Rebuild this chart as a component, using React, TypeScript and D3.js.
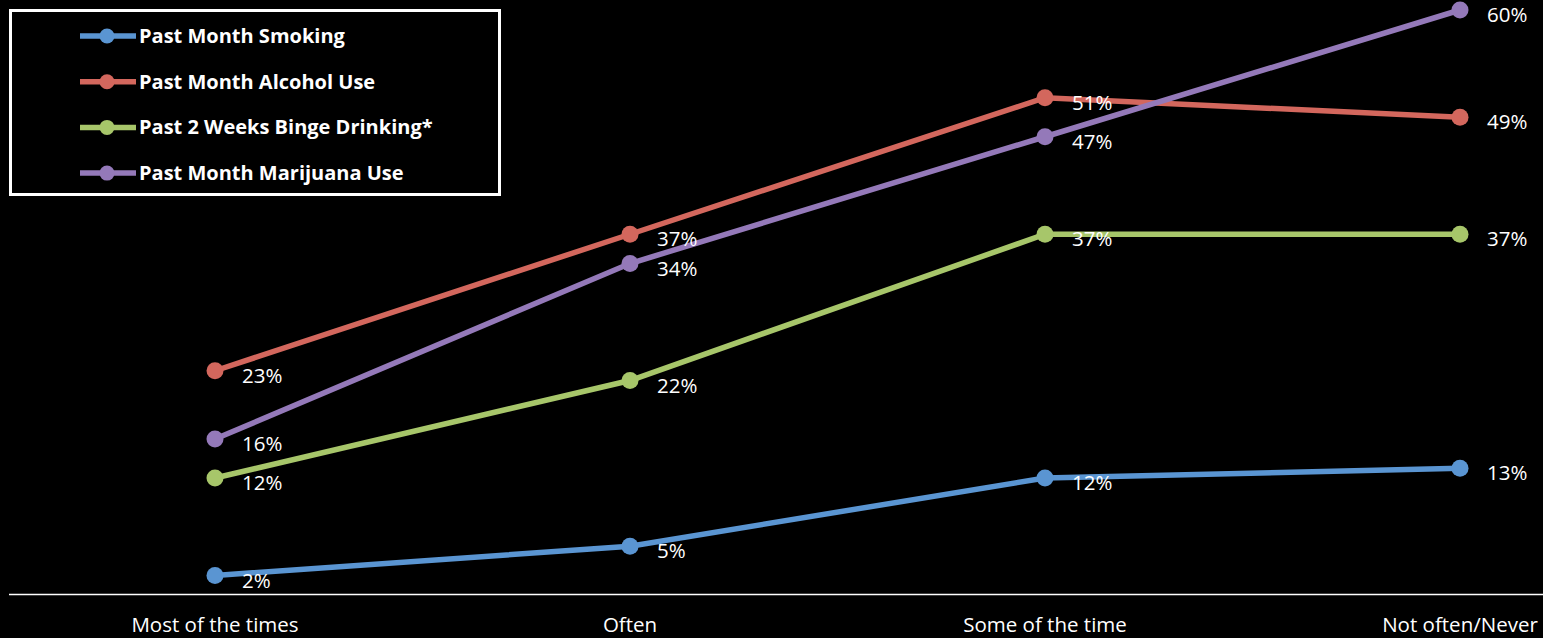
import React from "react";
import * as d3 from "d3";

const categories = ["Most of the times", "Often", "Some of the time", "Not often/Never"];
const seriesNames = ["Past Month Smoking", "Past Month Alcohol Use", "Past 2 Weeks Binge Drinking*", "Past Month Marijuana Use"];
const smoking = [2, 5, 12, 13];
const alcohol = [23, 37, 51, 49];
const binge = [12, 22, 37, 37];
const marijuana = [16, 34, 47, 60];
const colors = ["#5A95D2", "#D3675D", "#A7C66A", "#9479B9"];

const W = 1543;
const H = 638;

export default function App() {
  const series = [smoking, alcohol, binge, marijuana];
  const x = d3.scalePoint<string>().domain(categories).range([215, 1460]);
  const y = d3.scaleLinear().domain([0, 60]).range([595, 10]);
  const line = d3
    .line<number>()
    .x((_, i) => x(categories[i]) as number)
    .y((d) => y(d));
  const font = "'Open Sans', 'DejaVu Sans', sans-serif";
  return (
    <div style={{ position: "fixed", left: 0, top: 0, width: W, height: H, background: "#000" }}>
      <svg width={W} height={H} style={{ display: "block" }}>
        <rect x={0} y={0} width={W} height={H} fill="#000" />
        <line x1={9} x2={W} y1={594.5} y2={594.5} stroke="#fff" strokeWidth={1.5} />
        {categories.map((c) => (
          <text key={c} x={x(c)} y={632} textAnchor="middle" fill="#fff" fontFamily={font} fontSize={20.5}>
            {c}
          </text>
        ))}
        {series.map((s, si) => (
          <g key={si}>
            <path d={line(s) || ""} fill="none" stroke={colors[si]} strokeWidth={5.5} />
            {s.map((v, i) => (
              <circle key={i} cx={x(categories[i])} cy={y(v)} r={8.5} fill={colors[si]} />
            ))}
          </g>
        ))}
        {series.map((s, si) =>
          s.map((v, i) => (
            <text
              key={`${si}-${i}`}
              x={(x(categories[i]) as number) + 27}
              y={y(v) + 12}
              fill="#fff"
              fontFamily={font}
              fontSize={20.5}
            >
              {v}%
            </text>
          ))
        )}
        <rect x={10.5} y={10.5} width={489} height={184} fill="#000" stroke="#fff" strokeWidth={3} />
        {seriesNames.map((n, i) => {
          const ly = 36 + i * 45.7;
          return (
            <g key={n}>
              <line x1={80} x2={136} y1={ly} y2={ly} stroke={colors[i]} strokeWidth={5.5} />
              <circle cx={107} cy={ly} r={7.5} fill={colors[i]} />
              <text x={139} y={ly + 7} fill="#fff" fontFamily={font} fontWeight="bold" fontSize={20}>
                {n}
              </text>
            </g>
          );
        })}
      </svg>
    </div>
  );
}
